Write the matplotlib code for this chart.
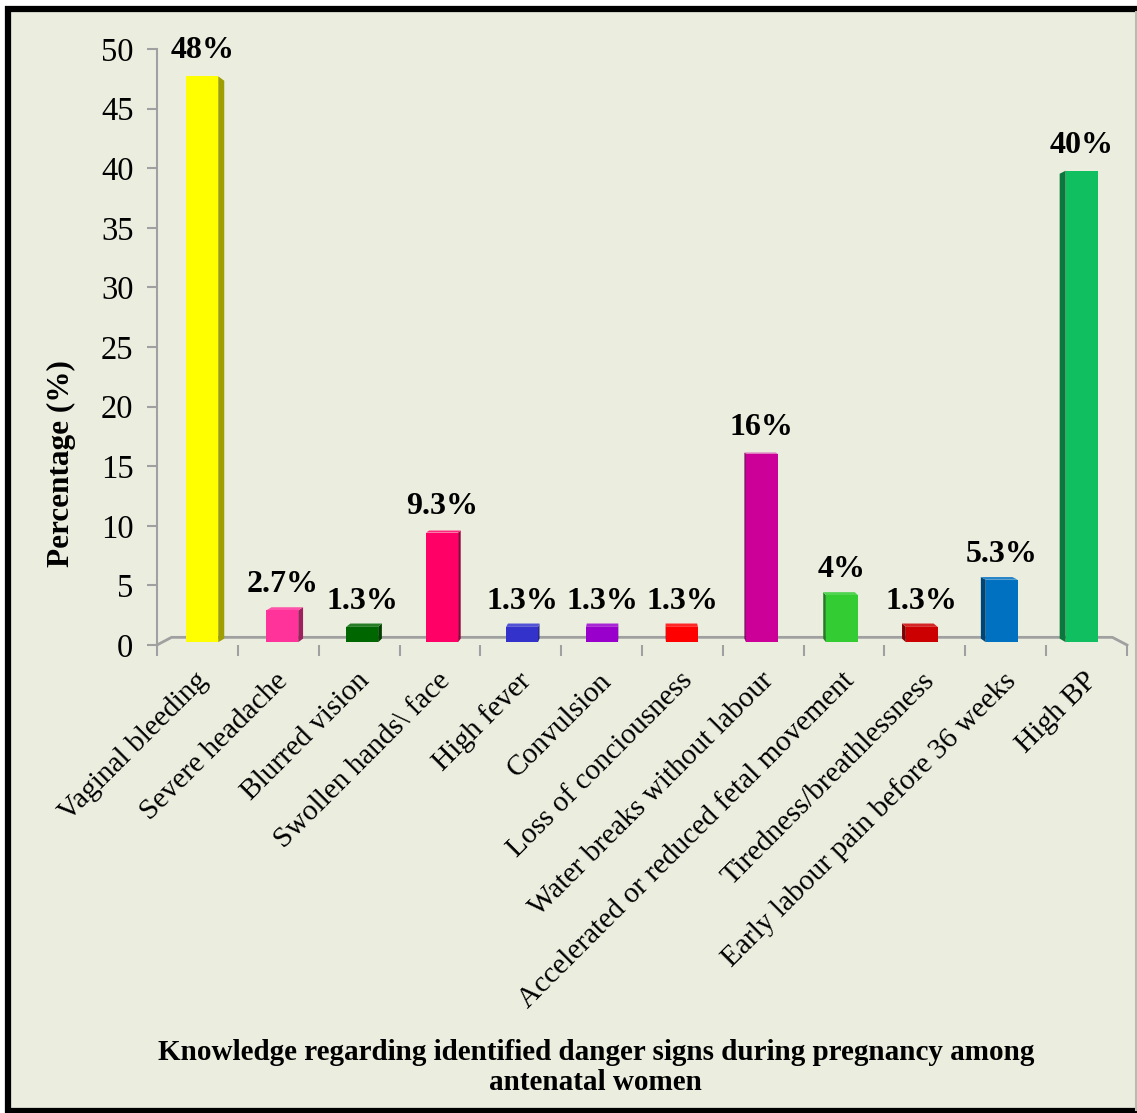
import matplotlib.pyplot as plt
import matplotlib.colors as mcolors
from matplotlib.patches import Polygon, Rectangle
from matplotlib.lines import Line2D
import matplotlib.transforms as mtransforms
import numpy as np

# data
signs = ["Vaginal bleeding", "Severe headache", "Blurred vision", "Swollen hands\\ face",
         "High fever", "Convulsion", "Loss of conciousness", "Water breaks without labour",
         "Accelerated or reduced fetal movement", "Tiredness/breathlessness",
         "Early labour pain before 36 weeks", "High BP"]
percent = [48, 2.7, 1.3, 9.3, 1.3, 1.3, 1.3, 16, 4, 1.3, 5.3, 40]
labels = ["48%", "2.7%", "1.3%", "9.3%", "1.3%", "1.3%", "1.3%", "16%", "4%", "1.3%", "5.3%", "40%"]
colors = ["#FFFF00", "#FF3399", "#006600", "#FF0066", "#3333CC", "#9900CC",
          "#FF0000", "#CC0099", "#33CC33", "#CC0000", "#0070C0", "#10C060"]

plt.rcParams['font.family'] = ['Liberation Serif', 'DejaVu Serif']
BG = "#EBEEDF"

fig = plt.figure(figsize=(11.37, 11.13), dpi=100, facecolor="white")
# framed background
fig.patches.append(Rectangle((8 / 1137, 2 / 1113), 1.2, 1 - 11 / 1113, transform=fig.transFigure,
                             facecolor=BG, edgecolor="black", linewidth=4.5, zorder=-5))
fig.lines.append(Line2D([1136 / 1137] * 2, [3 / 1113, 1 - 12 / 1113], transform=fig.transFigure,
                        color="#B8BBB0", lw=1.5, zorder=-4))

ax = fig.add_axes([157 / 1137, 1 - 645 / 1113, 970 / 1137, 596 / 1113])
ax.set_zorder(1)
ax.set_facecolor("none")
n = len(signs)
ax.set_xlim(-0.5, n - 0.5)
ax.set_ylim(0, 50)

# simple perspective: points recede toward a vanishing point
vp = np.array([5.48, 21.4])


def proj(x, y, f):
    return (x + f * (vp[0] - x), y + f * (vp[1] - y))


# floor
f_floor = 0.03
gray = "#A0A0A0"
x0, x1 = -0.5, n - 0.5
bl = proj(x0, 0, f_floor)
br = proj(x1, 0, f_floor)
ax.plot([x0, bl[0], br[0], x1], [0, bl[1], br[1], 0], color=gray, lw=2, clip_on=False, zorder=1)

# bars with side / top faces
w = 0.4
f1, f2 = 0.011, 0.025
for i, (v, c) in enumerate(zip(percent, colors)):
    xl, xr = i - w / 2, i + w / 2
    dark = tuple(np.array(mcolors.to_rgb(c)) * 0.62)
    light = tuple(np.clip(np.array(mcolors.to_rgb(c)) * 0.85 + 0.15, 0, 1))
    xs = xr if i < vp[0] else xl
    side = [proj(xs, 0, f1), proj(xs, v, f1), proj(xs, v, f2), proj(xs, 0, f2)]
    ax.add_patch(Polygon(side, closed=True, facecolor=dark, edgecolor="none", zorder=2, clip_on=False))
    if v < vp[1]:
        top = [proj(xl, v, f1), proj(xr, v, f1), proj(xr, v, f2), proj(xl, v, f2)]
        ax.add_patch(Polygon(top, closed=True, facecolor=light, edgecolor="none", zorder=2, clip_on=False))
    front = [proj(xl, 0, f1), proj(xr, 0, f1), proj(xr, v, f1), proj(xl, v, f1)]
    ax.add_patch(Polygon(front, closed=True, facecolor=c, edgecolor="none", zorder=3, clip_on=False))
    tx, ty = proj(i, v, f1)
    ax.annotate(labels[i], (tx, ty), xytext=(0, 8), textcoords="offset points",
                ha="center", va="bottom", fontsize=23, fontweight="bold", zorder=4)

# axes styling
for s in ["top", "right", "bottom"]:
    ax.spines[s].set_visible(False)
ax.spines["left"].set_color(gray)
ax.spines["left"].set_linewidth(1.5)
ax.set_yticks(range(0, 51, 5))
ax.tick_params(axis="y", colors=gray, length=7, width=1.5, pad=10, labelsize=23.5, labelcolor="black")

ax.set_xticks(np.arange(-0.5, n, 1.0), minor=True)
ax.set_xticks(range(n))
ax.set_xticklabels(signs, fontsize=21.2, rotation=45, ha="right", va="center", rotation_mode="anchor")
ax.tick_params(axis="x", which="major", length=0, pad=23)
ax.tick_params(axis="x", which="minor", length=8, width=1.5, color=gray)
shift = mtransforms.ScaledTranslation(6 / 100, 0, fig.dpi_scale_trans)
for lab in ax.get_xticklabels():
    lab.set_transform(lab.get_transform() + shift)

ax.set_ylabel("Percentage (%)", fontsize=22.5, fontweight="bold")
ax.yaxis.set_label_coords(-0.084, 0.305)

fig.text(0.524, 1 - 1052 / 1113,
         "Knowledge regarding identified danger signs during pregnancy among",
         ha="center", va="center", fontsize=21, fontweight="bold")
fig.text(0.524, 1 - 1082 / 1113, "antenatal women",
         ha="center", va="center", fontsize=21, fontweight="bold")

fig.savefig("out.png", dpi=100, facecolor=fig.get_facecolor())
